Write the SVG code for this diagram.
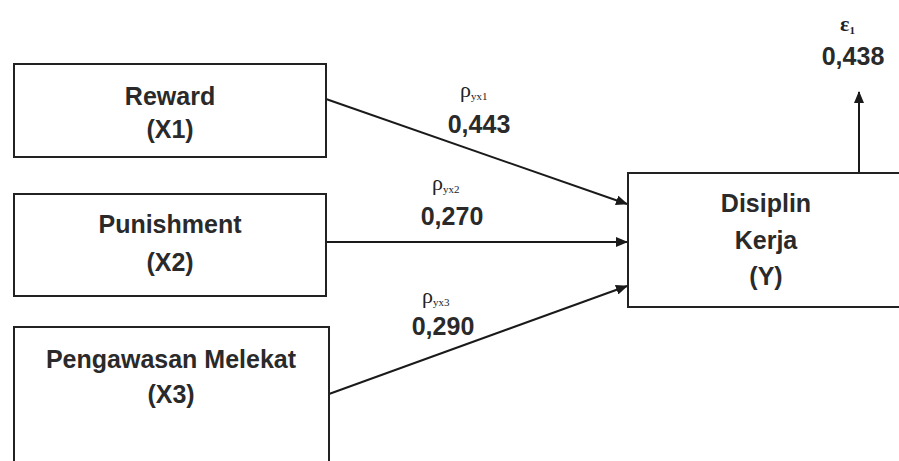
<svg xmlns="http://www.w3.org/2000/svg" width="899" height="461" viewBox="0 0 899 461">
<defs>
<style>
.box{fill:#fff;stroke:#222;stroke-width:2}
.t{font-family:"Liberation Sans",Arial,sans-serif;font-weight:bold;font-size:25px;fill:#2a2a2a;text-anchor:middle}
.p{font-family:"Liberation Serif","Times New Roman",serif;font-size:22px;fill:#222}
.s{font-size:11px}
.c{stroke:#1a1a1a;stroke-width:2;fill:none;marker-end:url(#ah)}
</style>
<marker id="ah" markerWidth="12" markerHeight="10" refX="11" refY="5" orient="auto" markerUnits="userSpaceOnUse">
<path d="M0,0 L12,5 L0,10 Z" fill="#1a1a1a"/>
</marker>
</defs>
<rect width="899" height="461" fill="#fff"/>
<g id="connectors">
<line class="c" x1="326" y1="99" x2="627" y2="204"/>
<line class="c" x1="326" y1="242" x2="627" y2="242"/>
<line class="c" x1="329" y1="394" x2="627" y2="286"/>
<line class="c" x1="859" y1="173" x2="859" y2="92"/>
</g>
<g id="node-x1">
<rect class="box" x="14" y="64" width="312" height="93"/>
<text class="t" x="170" y="105">Reward</text>
<text class="t" x="170" y="138">(X1)</text>
</g>
<g id="node-x2">
<rect class="box" x="14" y="194" width="312" height="102"/>
<text class="t" x="170" y="233">Punishment</text>
<text class="t" x="170" y="271">(X2)</text>
</g>
<g id="node-x3">
<rect class="box" x="14" y="327" width="315" height="150"/>
<text class="t" x="171" y="368">Pengawasan Melekat</text>
<text class="t" x="171" y="403">(X3)</text>
</g>
<g id="node-y">
<rect class="box" x="628" y="173" width="290" height="134"/>
<text class="t" x="766" y="212">Disiplin</text>
<text class="t" x="766" y="249">Kerja</text>
<text class="t" x="766" y="285">(Y)</text>
</g>
<g id="labels">
<text class="p" x="460" y="97">ρ<tspan class="s" dy="3">yx1</tspan></text>
<text class="t" x="479" y="133">0,443</text>
<text class="p" x="432" y="190">ρ<tspan class="s" dy="3">yx2</tspan></text>
<text class="t" x="452" y="225">0,270</text>
<text class="p" x="422" y="303">ρ<tspan class="s" dy="3">yx3</tspan></text>
<text class="t" x="443" y="335">0,290</text>
<text class="p" x="840" y="31" font-weight="bold">ε<tspan class="s" dy="3">1</tspan></text>
<text class="t" x="853" y="65">0,438</text>
</g>
</svg>
